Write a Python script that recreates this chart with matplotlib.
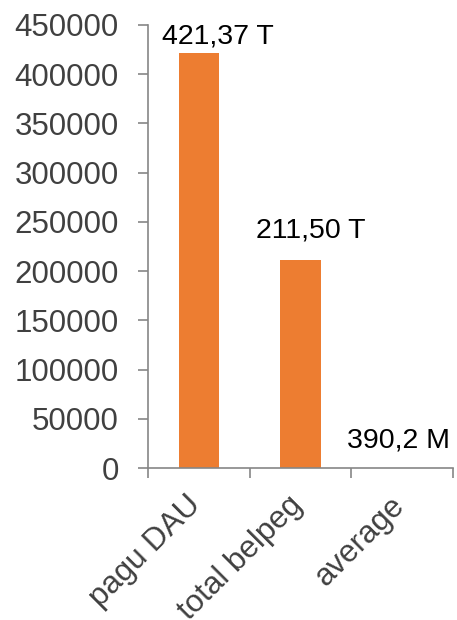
import numpy as np
import matplotlib
matplotlib.use("Agg")
import matplotlib.pyplot as plt
from matplotlib.transforms import ScaledTranslation

plt.rcParams['font.family'] = ['Liberation Sans', 'DejaVu Sans']

# values in millions (miliar) of rupiah
categories = ["pagu DAU", "total belpeg", "average"]
values = [421370, 211500, 390.2]
value_labels = ["421,37 T", "211,50 T", "390,2 M"]
y_ticks = [0, 50000, 100000, 150000, 200000, 250000, 300000, 350000, 400000, 450000]

bar_color = "#ED7D31"
axis_color = "#868686"
tick_text = "#404040"

# pixel offsets of the data labels from the bar tops
label_offsets = [(19, 10), (10, 22), (-4, 20)]

fig = plt.figure(figsize=(4.57, 6.2), dpi=100)
ax = fig.add_axes([0.324, 0.245, 0.667, 0.715])

x = np.arange(len(categories))
ax.bar(x, values, width=0.4, color=bar_color, zorder=2)

ax.set_xlim(-0.5, len(categories) - 0.5)
ax.set_ylim(0, 450000)
ax.set_yticks(y_ticks)
ax.set_yticklabels([str(t) for t in y_ticks])

# category labels sit under each bar, tick marks fall between the bars
ax.set_xticks(x)
ax.set_xticklabels(categories, rotation=45, ha="right", va="top",
                   rotation_mode="anchor")
ax.set_xticks(np.arange(-0.5, len(categories)), minor=True)
ax.tick_params(axis="x", which="major", length=0, pad=16,
               labelsize=22.5, labelcolor=tick_text)
ax.tick_params(axis="x", which="minor", length=7, width=1.2, color=axis_color)
ax.tick_params(axis="y", length=7, width=1.2, color=axis_color, pad=14,
               labelsize=22.5, labelcolor=tick_text)

shift = ScaledTranslation(-13 / 100, 0, fig.dpi_scale_trans)
for lab in ax.get_xticklabels():
    lab.set_transform(lab.get_transform() + shift)

for side in ("top", "right"):
    ax.spines[side].set_visible(False)
for side in ("left", "bottom"):
    ax.spines[side].set_color(axis_color)
    ax.spines[side].set_linewidth(1.2)

for xi, v, lab, off in zip(x, values, value_labels, label_offsets):
    ax.annotate(lab, (xi, v), xytext=off, textcoords="offset pixels",
                ha="center", va="baseline", fontsize=20.5, color="black",
                annotation_clip=False)

fig.savefig("out.png", dpi=100)
